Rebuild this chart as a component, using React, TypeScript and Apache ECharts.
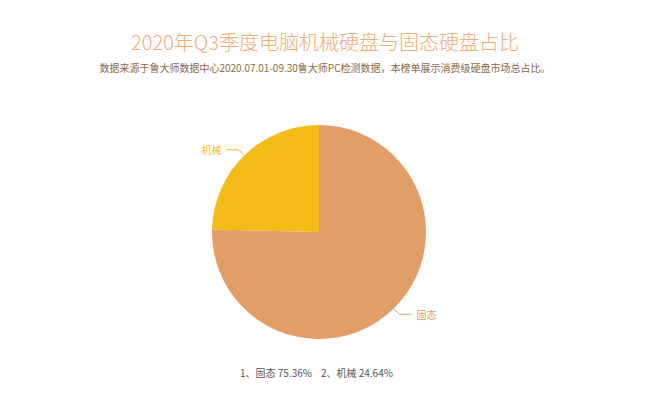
import { useEffect, useRef } from 'react';
import * as echarts from 'echarts';

const titleText = '2020年Q3季度电脑机械硬盘与固态硬盘占比';
const subText = '数据来源于鲁大师数据中心2020.07.01-09.30鲁大师PC检测数据，本榜单展示消费级硬盘市场总占比。';
const categories = ['固态', '机械'];
const shares = [75.36, 24.64];
const colors = ['#E39D69', '#F5BB18'];

const font = '"Noto Sans CJK SC", "Noto Sans", sans-serif';

export default function App() {
  const ref = useRef<HTMLDivElement>(null);

  useEffect(() => {
    document.body.style.margin = '0';
    if (!ref.current) return;
    const chart = echarts.init(ref.current, null, { renderer: 'svg' });

    const legendText = categories
      .map((c, i) => `${i + 1}、${c} ${shares[i].toFixed(2)}%`)
      .join('    ');

    chart.setOption({
      animation: false,
      backgroundColor: '#fff',
      textStyle: { fontFamily: font },
      title: {
        text: titleText,
        subtext: subText,
        left: 'center',
        top: 26,
        itemGap: 12,
        textStyle: { color: '#EFAD78', fontSize: 20, fontWeight: 300, fontFamily: font },
        subtextStyle: { color: '#8A6A4A', fontSize: 10, fontFamily: font },
      },
      graphic: [
        {
          type: 'text',
          left: 240,
          top: 367,
          style: { text: legendText, fill: '#555', fontSize: 10, fontFamily: font },
        },
      ],
      series: [
        {
          type: 'pie',
          center: [319, 232],
          radius: 107,
          startAngle: 90,
          clockwise: true,
          label: { show: true, fontSize: 10, fontFamily: font },
          labelLine: { show: true, length: 8, length2: 12 },
          data: categories.map((c, i) => ({
            name: c,
            value: shares[i],
            itemStyle: { color: colors[i] },
            label: { color: colors[i] },
            labelLine: { lineStyle: { color: colors[i] } },
          })),
        },
      ],
    });

    return () => chart.dispose();
  }, []);

  return <div ref={ref} style={{ width: 650, height: 406 }} />;
}
